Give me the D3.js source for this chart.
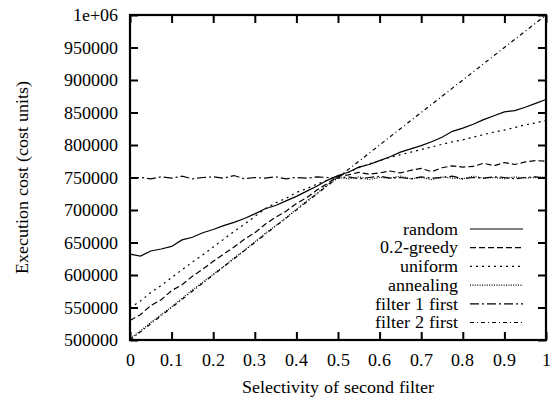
<!DOCTYPE html>
<html>
<head>
<meta charset="utf-8">
<script src="https://cdn.jsdelivr.net/npm/d3@7"></script>
<style>
  @font-face { font-family: "ChartSerif"; src: local("Liberation Serif"), local("LiberationSerif"), local("Tinos"); }
</style>
</head>
<body style="margin:0; background:#fff">
<div id="chart"></div>
<script>
// selectivity of second filter (x)
var sel = [0, 0.025, 0.05, 0.075, 0.1, 0.125, 0.15, 0.175, 0.2, 0.225, 0.25, 0.275, 0.3, 0.325, 0.35, 0.375, 0.4,
    0.425, 0.45, 0.475, 0.5, 0.525, 0.55, 0.575, 0.6, 0.625, 0.65, 0.675, 0.7, 0.725, 0.75, 0.775, 0.8, 0.825,
    0.85, 0.875, 0.9, 0.925, 0.95, 0.975, 1];

var randomCost = [632000, 629000, 637000, 640000, 644000, 654000, 658000, 665000, 670000, 676000, 681000,
    687000, 694000, 702000, 707000, 714000, 721000, 729000, 737000, 746000, 753000, 758000, 766000, 770000,
    776000, 782000, 789000, 794000, 799000, 805000, 812000, 821000, 826000, 832000, 839000, 845000, 851000,
    853000, 858000, 864000, 870000];

var greedyCost = [530000, 539000, 553000, 562000, 576000, 585000, 598000, 609000, 621000, 632000, 643000,
    655000, 665000, 678000, 689000, 698000, 710000, 719000, 731000, 741000, 752000, 754000, 758000, 755000,
    757000, 760000, 757000, 761000, 764000, 759000, 765000, 768000, 766000, 767000, 772000, 768000, 773000,
    770000, 774000, 776000, 775000];

var uniformCost = [549000, 560000, 573000, 584000, 596000, 608000, 620000, 631000, 643000, 655000, 667000,
    678000, 690000, 702000, 711000, 718000, 727000, 733000, 740000, 746000, 752000, 758000, 765000, 771000,
    776000, 781000, 785000, 789000, 793000, 797000, 801000, 805000, 808000, 812000, 816000, 820000, 823000,
    827000, 831000, 834000, 838000];

var annealingCost = [502000, 514000, 527000, 539000, 551000, 564000, 577000, 589000, 601000, 613000, 626000,
    638000, 651000, 664000, 676000, 688000, 701000, 714000, 726000, 739000, 750000, 748000, 751000, 747000,
    750000, 749000, 752000, 748000, 750000, 747000, 751000, 749000, 748000, 752000, 749000, 750000, 748000,
    751000, 749000, 750000, 751000];

var filter1Cost = [749000, 750000, 748000, 751000, 749000, 752000, 748000, 750000, 751000, 749000, 753000,
    748000, 750000, 749000, 751000, 748000, 750000, 749000, 751000, 750000, 749000, 751000, 748000, 750000,
    752000, 749000, 750000, 748000, 751000, 749000, 750000, 752000, 748000, 750000, 749000, 751000, 750000,
    748000, 750000, 751000, 749000];

var filter2Cost = [500000, 512500, 525000, 537500, 550000, 562500, 575000, 587500, 600000, 612500, 625000,
    637500, 650000, 662500, 675000, 687500, 700000, 712500, 725000, 737500, 750000, 762500, 775000, 787500,
    800000, 812500, 825000, 837500, 850000, 862500, 875000, 887500, 900000, 912500, 925000, 937500, 950000,
    962500, 975000, 987500, 1000000];

var seriesNames = ["random", "0.2-greedy", "uniform", "annealing", "filter 1 first", "filter 2 first"];
var seriesValues = [randomCost, greedyCost, uniformCost, annealingCost, filter1Cost, filter2Cost];

var xTicks = [0, 0.1, 0.2, 0.3, 0.4, 0.5, 0.6, 0.7, 0.8, 0.9, 1];
var yTicks = [500000, 550000, 600000, 650000, 700000, 750000, 800000, 850000, 900000, 950000, 1000000];

// gnuplot style dash patterns, one per series
var dashes = ["none", "6,3", "2,4", "1,1.4", "9,3,2,3", "4,3,1,3"];

var serif = "ChartSerif, Liberation Serif, serif";

var width = 556,
    height = 401;
var margin = {left: 130, right: 10, top: 15, bottom: 61};

var svg = d3.select("#chart").append("svg")
    .attr("width", width)
    .attr("height", height);

var x = d3.scaleLinear().domain([0, 1]).range([margin.left, width - margin.right]);
var y = d3.scaleLinear().domain([500000, 1000000]).range([height - margin.bottom, margin.top]);

var tickLen = 8;

// data lines
var line = d3.line()
    .x(function(d) { return x(d[0]); })
    .y(function(d) { return y(d[1]); });

seriesValues.forEach(function(vals, i) {
    svg.append("path")
        .datum(sel.map(function(s, j) { return [s, vals[j]]; }))
        .attr("d", line)
        .attr("fill", "none")
        .attr("stroke", "#000")
        .attr("stroke-width", 1.2)
        .attr("stroke-dasharray", dashes[i]);
});

// ticks, inward and mirrored on all four sides
var axisBottomG = svg.append("g").attr("transform", "translate(0," + y.range()[0] + ")")
    .call(d3.axisBottom(x).tickValues(xTicks).tickSizeInner(-tickLen).tickSizeOuter(0).tickFormat(""));
var axisTopG = svg.append("g").attr("transform", "translate(0," + y.range()[1] + ")")
    .call(d3.axisTop(x).tickValues(xTicks).tickSizeInner(-tickLen).tickSizeOuter(0).tickFormat(""));
var axisLeftG = svg.append("g").attr("transform", "translate(" + x.range()[0] + ",0)")
    .call(d3.axisLeft(y).tickValues(yTicks).tickSizeInner(-tickLen).tickSizeOuter(0).tickFormat(""));
var axisRightG = svg.append("g").attr("transform", "translate(" + x.range()[1] + ",0)")
    .call(d3.axisRight(y).tickValues(yTicks).tickSizeInner(-tickLen).tickSizeOuter(0).tickFormat(""));

[axisBottomG, axisTopG, axisLeftG, axisRightG].forEach(function(g) {
    g.select(".domain").remove();
    g.selectAll(".tick line").attr("stroke", "#000").attr("stroke-width", 2);
    g.selectAll(".tick text").remove();
});

// tick labels as plain text, placed through the scales
svg.selectAll("text.xlab")
    .data(xTicks).enter().append("text")
    .attr("class", "xlab")
    .attr("x", function(d) { return x(d); })
    .attr("y", 366)
    .attr("text-anchor", "middle")
    .attr("font-family", serif)
    .attr("font-size", 18)
    .text(function(d) { return d; });

svg.selectAll("text.ylab")
    .data(yTicks).enter().append("text")
    .attr("class", "ylab")
    .attr("x", 118)
    .attr("y", function(d) { return y(d) + 6; })
    .attr("text-anchor", "end")
    .attr("font-family", serif)
    .attr("font-size", 18)
    .text(function(d) { return d == 1000000 ? "1e+06" : d; });

// frame
svg.append("rect")
    .attr("x", x.range()[0])
    .attr("y", y.range()[1])
    .attr("width", x.range()[1] - x.range()[0])
    .attr("height", y.range()[0] - y.range()[1])
    .attr("fill", "none")
    .attr("stroke", "#000")
    .attr("stroke-width", 2.2);

// axis titles
svg.append("text")
    .attr("x", (x.range()[0] + x.range()[1]) / 2)
    .attr("y", 393)
    .attr("text-anchor", "middle")
    .attr("font-family", serif)
    .attr("font-size", 18)
    .text("Selectivity of second filter");

svg.append("text")
    .attr("transform", "translate(28," + ((y.range()[0] + y.range()[1]) / 2) + ") rotate(-90)")
    .attr("text-anchor", "middle")
    .attr("font-family", serif)
    .attr("font-size", 18)
    .text("Execution cost (cost units)");

// legend
var legend = svg.selectAll("g.legend")
    .data(seriesNames).enter().append("g")
    .attr("class", "legend")
    .attr("transform", function(d, i) { return "translate(0," + (229 + i * 18.7) + ")"; });

legend.append("text")
    .attr("x", 458)
    .attr("dy", "0.32em")
    .attr("text-anchor", "end")
    .attr("font-family", serif)
    .attr("font-size", 18)
    .text(function(d) { return d; });

legend.append("line")
    .attr("x1", 470)
    .attr("x2", 523)
    .attr("stroke", "#000")
    .attr("stroke-width", 1.2)
    .attr("stroke-dasharray", function(d, i) { return dashes[i]; });
</script>
</body>
</html>
